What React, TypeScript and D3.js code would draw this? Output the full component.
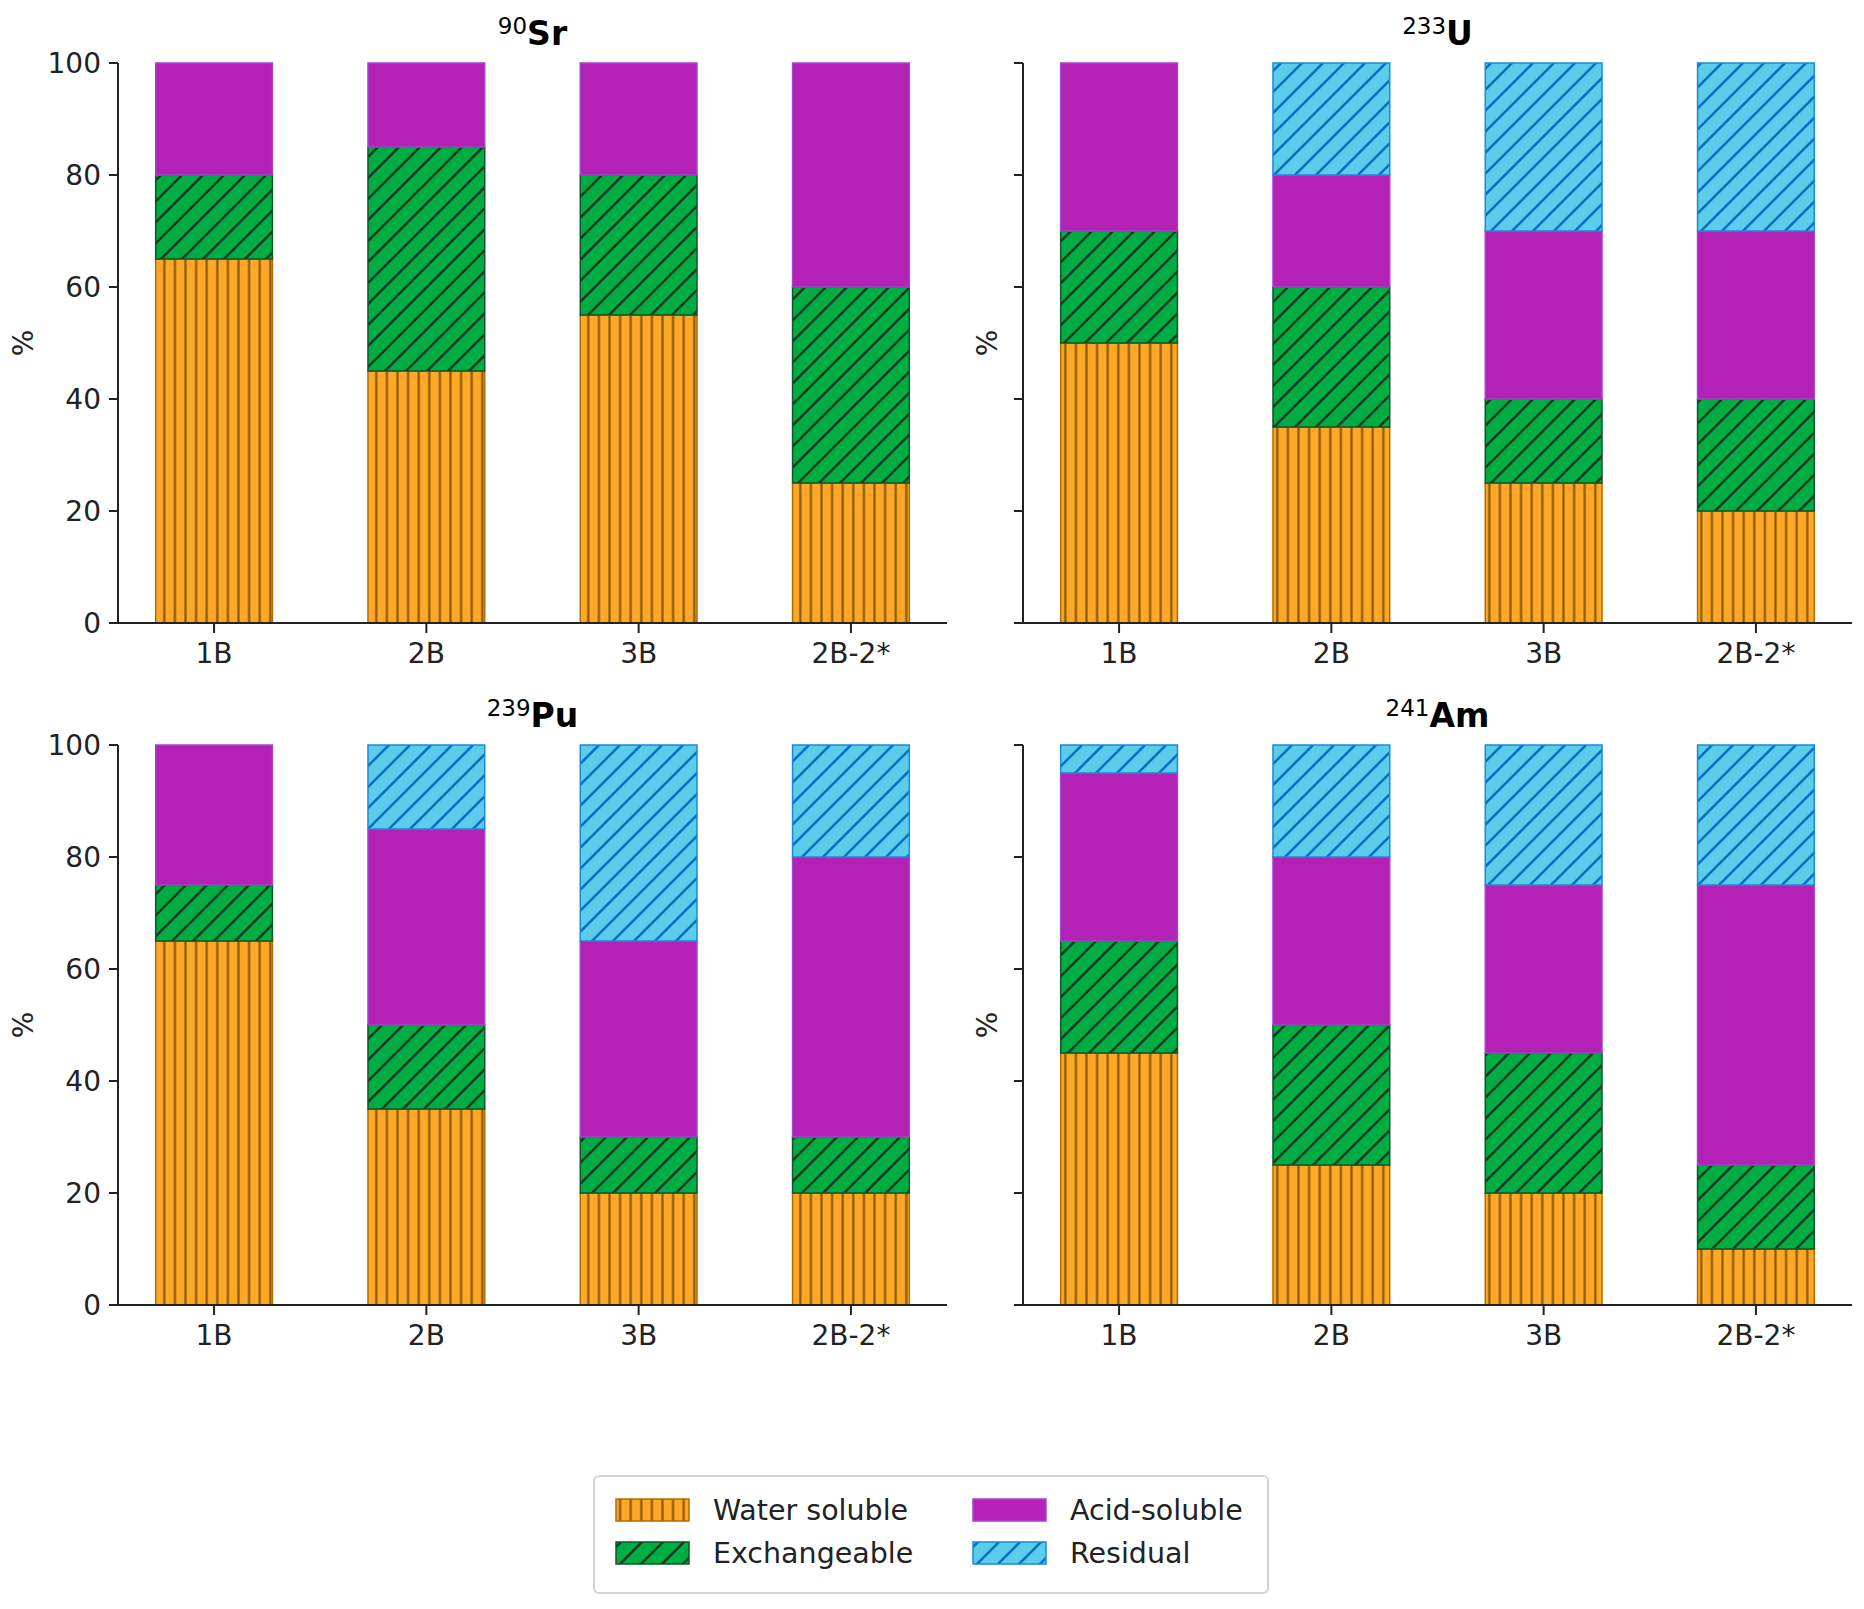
import * as d3 from 'd3';

const CATEGORIES = ['1B', '2B', '3B', '2B-2*'];
const FRACTIONS = ['Water soluble', 'Exchangeable', 'Acid-soluble', 'Residual'];
const Y_TICKS = [0, 20, 40, 60, 80, 100];

// % of each fraction per sample, bottom to top of the stack
const SR_WATER = [65, 45, 55, 25];
const SR_EXCH = [15, 40, 25, 35];
const SR_ACID = [20, 15, 20, 40];
const SR_RESID = [0, 0, 0, 0];

const U_WATER = [50, 35, 25, 20];
const U_EXCH = [20, 25, 15, 20];
const U_ACID = [30, 20, 30, 30];
const U_RESID = [0, 20, 30, 30];

const PU_WATER = [65, 35, 20, 20];
const PU_EXCH = [10, 15, 10, 10];
const PU_ACID = [25, 35, 35, 50];
const PU_RESID = [0, 15, 35, 20];

const AM_WATER = [45, 25, 20, 10];
const AM_EXCH = [20, 25, 25, 15];
const AM_ACID = [30, 30, 30, 50];
const AM_RESID = [5, 20, 25, 25];

const NUCLIDES = [
  { mass: '90', symbol: 'Sr', series: [SR_WATER, SR_EXCH, SR_ACID, SR_RESID] },
  { mass: '233', symbol: 'U', series: [U_WATER, U_EXCH, U_ACID, U_RESID] },
  { mass: '239', symbol: 'Pu', series: [PU_WATER, PU_EXCH, PU_ACID, PU_RESID] },
  { mass: '241', symbol: 'Am', series: [AM_WATER, AM_EXCH, AM_ACID, AM_RESID] },
];

const STYLES = [
  { id: 'h-water', fill: '#ffa726', edge: '#b06e00', hatch: '#8a5800', kind: 'vert' },
  { id: 'h-exch', fill: '#00ad45', edge: '#11552a', hatch: '#123d1c', kind: 'diag' },
  { id: 'h-acid', fill: '#b421b5', edge: '#a244d2', hatch: '', kind: 'none' },
  { id: 'h-resid', fill: '#5bcdeb', edge: '#1a8ad6', hatch: '#0a6fc2', kind: 'diag' },
];

const FONT = '"DejaVu Sans", Verdana, sans-serif';
const INK = '#222';

const W = 1864;
const H = 1609;
const PANEL_W = 829;
const PANEL_H = 560;
const COL_X = [118, 1023];
const ROW_Y = [63, 745];

function HatchDefs() {
  const vs = 10.6;
  const ds = 21;
  return (
    <defs>
      {STYLES.map((s) => {
        if (s.kind === 'vert') {
          return (
            <pattern key={s.id} id={s.id} patternUnits='userSpaceOnUse' width={vs} height={vs}>
              <rect width={vs} height={vs} fill={s.fill} />
              <line x1={vs / 2} x2={vs / 2} y1={0} y2={vs} stroke={s.hatch} strokeWidth={2.2} />
            </pattern>
          );
        }
        if (s.kind === 'diag') {
          return (
            <pattern key={s.id} id={s.id} patternUnits='userSpaceOnUse' width={ds} height={ds}>
              <rect width={ds} height={ds} fill={s.fill} />
              <path
                d={`M0,${ds} L${ds},0 M${-ds / 4},${ds / 4} L${ds / 4},${-ds / 4} M${(ds * 3) / 4},${(ds * 5) / 4} L${(ds * 5) / 4},${(ds * 3) / 4}`}
                stroke={s.hatch}
                strokeWidth={2.6}
              />
            </pattern>
          );
        }
        return null;
      })}
    </defs>
  );
}

const paint = (i: number) => (STYLES[i].kind === 'none' ? STYLES[i].fill : `url(#${STYLES[i].id})`);

function Panel({ idx }: { idx: number }) {
  const nuc = NUCLIDES[idx];
  const left = COL_X[idx % 2];
  const top = ROW_Y[Math.floor(idx / 2)];
  const bottom = top + PANEL_H;

  const x = d3
    .scalePoint<string>()
    .domain(CATEGORIES)
    .range([left, left + PANEL_W])
    .padding(0.4525);
  const barW = x.step() * 0.55;
  const y = d3.scaleLinear().domain([0, 100]).range([bottom, top]);

  const rows = CATEGORIES.map((c, i) => {
    const r: Record<string, number | string> = { cat: c };
    FRACTIONS.forEach((f, k) => (r[f] = nuc.series[k][i]));
    return r;
  });
  const stacked = d3.stack<Record<string, number | string>>().keys(FRACTIONS)(rows);
  const showTickLabels = idx % 2 === 0;
  const cx = left + PANEL_W / 2;

  return (
    <g>
      {stacked.map((layer, k) =>
        layer.map((d) => {
          const c = d.data.cat as string;
          if (d[1] - d[0] <= 0) return null;
          return (
            <rect
              key={`${k}-${c}`}
              x={(x(c) ?? 0) - barW / 2}
              y={y(d[1])}
              width={barW}
              height={y(d[0]) - y(d[1])}
              fill={paint(k)}
              stroke={STYLES[k].edge}
              strokeWidth={1.5}
            />
          );
        })
      )}

      {/* spines */}
      <line x1={left} x2={left} y1={top} y2={bottom} stroke={INK} strokeWidth={2} />
      <line x1={left} x2={left + PANEL_W} y1={bottom} y2={bottom} stroke={INK} strokeWidth={2} />

      {Y_TICKS.map((t) => (
        <g key={t}>
          <line x1={left - 9} x2={left} y1={y(t)} y2={y(t)} stroke={INK} strokeWidth={2} />
          {showTickLabels && (
            <text
              x={left - 17}
              y={y(t)}
              textAnchor='end'
              dominantBaseline='central'
              fontSize={28}
              fontFamily={FONT}
              fill={INK}
            >
              {t}
            </text>
          )}
        </g>
      ))}

      {CATEGORIES.map((c) => (
        <g key={c}>
          <line x1={x(c)} x2={x(c)} y1={bottom} y2={bottom + 10} stroke={INK} strokeWidth={2} />
          <text
            x={x(c)}
            y={bottom + 40}
            textAnchor='middle'
            fontSize={28}
            fontFamily={FONT}
            fill={INK}
          >
            {c}
          </text>
        </g>
      ))}

      <text
        transform={`translate(${showTickLabels ? left - 95 : left - 36},${(top + bottom) / 2}) rotate(-90)`}
        textAnchor='middle'
        dominantBaseline='central'
        fontSize={28}
        fontFamily={FONT}
        fill={INK}
      >
        %
      </text>

      <text x={cx} y={top - 18} textAnchor='middle' fontFamily={FONT} fill='#000'>
        <tspan fontSize={23} dy={-11}>
          {nuc.mass}
        </tspan>
        <tspan fontSize={33} fontWeight='bold' dy={11}>
          {nuc.symbol}
        </tspan>
      </text>
    </g>
  );
}

function Legend() {
  const colX = [616, 973];
  const rowY = [1499, 1542];
  return (
    <g>
      <rect x={594} y={1476} width={674} height={117} rx={5} fill='#fff' stroke='#d4d4d4' strokeWidth={2} />
      {FRACTIONS.map((f, i) => {
        const px = colX[Math.floor(i / 2)];
        const py = rowY[i % 2];
        return (
          <g key={f}>
            <rect x={px} y={py} width={73} height={22} fill={paint(i)} stroke={STYLES[i].edge} strokeWidth={1.5} />
            <text
              x={px + 97}
              y={py + 11}
              dominantBaseline='central'
              fontSize={28.5}
              fontFamily={FONT}
              fill={INK}
            >
              {f}
            </text>
          </g>
        );
      })}
    </g>
  );
}

export default function App() {
  return (
    <svg
      width={W}
      height={H}
      viewBox={`0 0 ${W} ${H}`}
      style={{ position: 'absolute', left: 0, top: 0, background: '#fff' }}
    >
      <HatchDefs />
      <rect width={W} height={H} fill='#fff' />
      {NUCLIDES.map((n, i) => (
        <Panel key={n.symbol} idx={i} />
      ))}
      <Legend />
    </svg>
  );
}
